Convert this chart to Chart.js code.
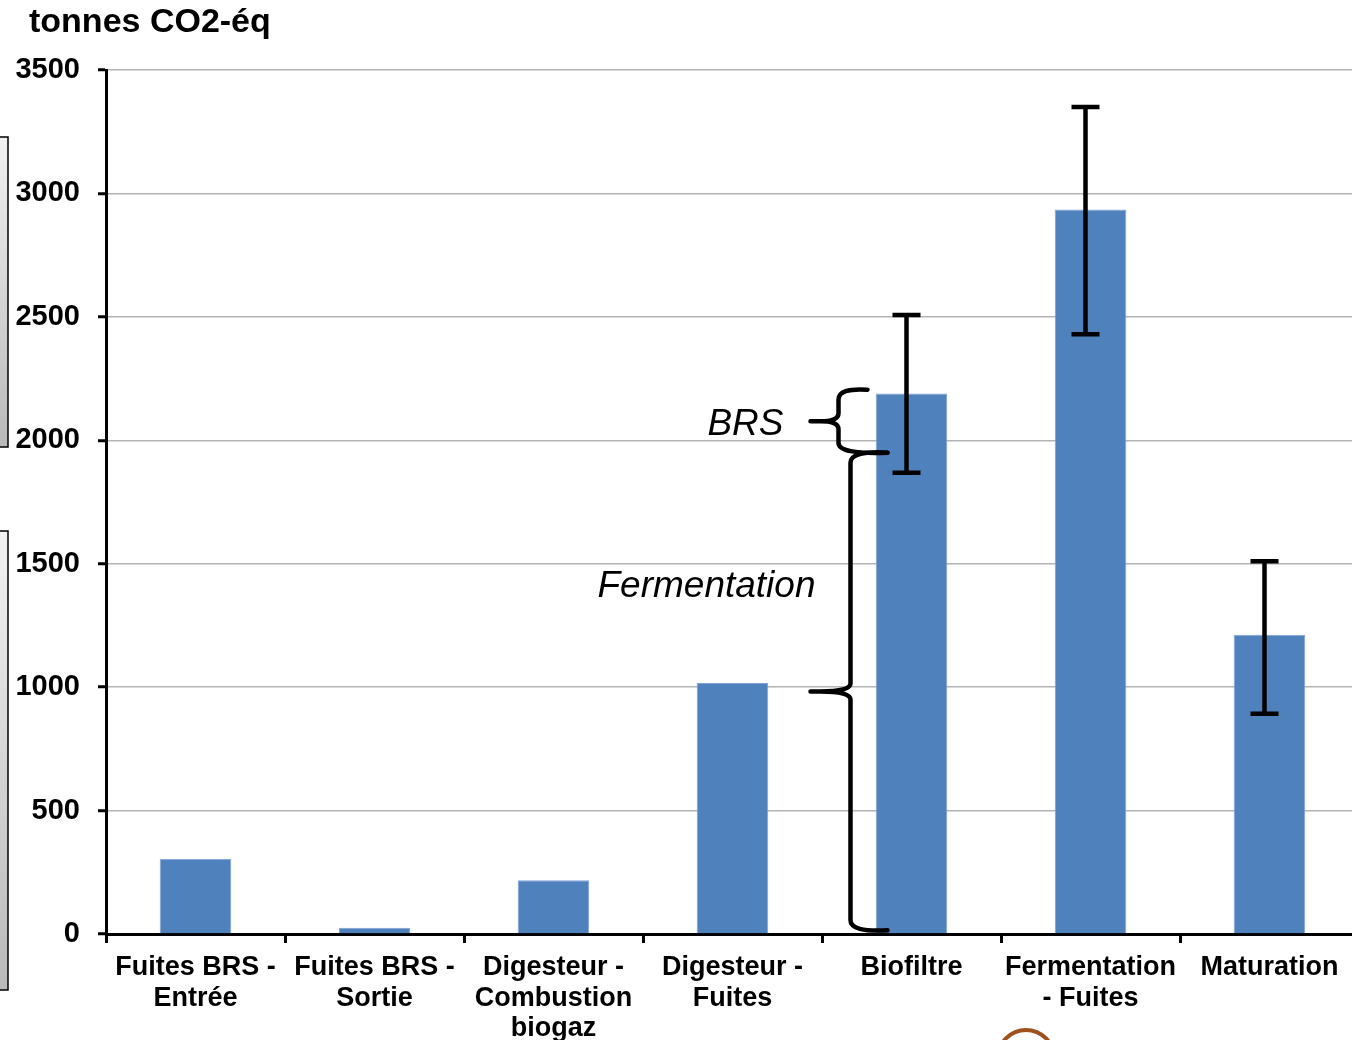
<!DOCTYPE html>
<html>
<head>
<meta charset="utf-8">
<script src="https://cdn.jsdelivr.net/npm/chart.js@4.4.1/dist/chart.umd.min.js"></script>
<style>
  html, body { margin: 0; padding: 0; background: #fff; overflow: hidden; }
  canvas { display: block; }
</style>
</head>
<body>
<canvas id="emissionsChart" width="1360" height="1040"></canvas>
<script>
var categories = [
    ['Fuites BRS -', 'Entrée'],
    ['Fuites BRS -', 'Sortie'],
    ['Digesteur -', 'Combustion', 'biogaz'],
    ['Digesteur -', 'Fuites'],
    ['Biofiltre'],
    ['Fermentation', '- Fuites'],
    ['Maturation']
];
var emissions = [305, 25, 218, 1017, 2190, 2935, 1212];
var errLow = [null, null, null, null, 1868, 2430, 892];
var errHigh = [null, null, null, null, 2508, 3350, 1510];
var yTicks = [0, 500, 1000, 1500, 2000, 2500, 3000, 3500];

// accolades sur la barre Biofiltre
var braceLabels = ['BRS', 'Fermentation'];
var braceFrom = [1950, 15];
var braceTo = [2205, 1950];
var braceTextAt = [2062, 1407];

var fontFamily = '"Liberation Sans", Arial, sans-serif';

var errorBars = {
    id: 'errorBars',
    afterDatasetsDraw: function (chart) {
        var ctx = chart.ctx;
        var x = chart.scales.x, y = chart.scales.y;
        ctx.save();
        ctx.strokeStyle = '#000';
        ctx.lineWidth = 4.5;
        ctx.lineCap = 'butt';
        errHigh.forEach(function (hi, i) {
            if (hi === null) return;
            var cx = x.getPixelForValue(i) - 5;
            var yh = y.getPixelForValue(hi), yl = y.getPixelForValue(errLow[i]);
            ctx.beginPath();
            ctx.moveTo(cx, yh); ctx.lineTo(cx, yl);
            ctx.moveTo(cx - 14, yh); ctx.lineTo(cx + 14, yh);
            ctx.moveTo(cx - 14, yl); ctx.lineTo(cx + 14, yl);
            ctx.stroke();
        });
        ctx.restore();
    }
};

function drawBrace(ctx, xv, yTop, yBot, tipX, endTop, endBot) {
    var yMid = (yTop + yBot) / 2;
    ctx.beginPath();
    ctx.moveTo(endTop, yTop);
    ctx.quadraticCurveTo(xv, yTop - 2, xv, yTop + 10);
    ctx.lineTo(xv, yMid - 8);
    ctx.quadraticCurveTo(xv, yMid, tipX + 10, yMid);
    ctx.lineTo(tipX, yMid);
    ctx.moveTo(tipX + 10, yMid);
    ctx.quadraticCurveTo(xv, yMid, xv, yMid + 8);
    ctx.lineTo(xv, yBot - 10);
    ctx.quadraticCurveTo(xv, yBot + 2, endBot, yBot);
    ctx.stroke();
}

var annotations = {
    id: 'annotations',
    afterDatasetsDraw: function (chart) {
        var ctx = chart.ctx;
        var x = chart.scales.x, y = chart.scales.y;
        var bx = x.getPixelForValue(4);
        ctx.save();
        ctx.strokeStyle = '#000';
        ctx.lineWidth = 4.5;
        ctx.lineCap = 'round';
        ctx.lineJoin = 'round';
        // BRS
        drawBrace(ctx, bx - 73, y.getPixelForValue(braceTo[0]), y.getPixelForValue(braceFrom[0]),
            bx - 101, bx - 44, bx - 24);
        // Fermentation
        drawBrace(ctx, bx - 61, y.getPixelForValue(braceTo[1]), y.getPixelForValue(braceFrom[1]),
            bx - 101, bx - 24, bx - 24);
        ctx.fillStyle = '#000';
        ctx.font = 'italic 37px ' + fontFamily;
        ctx.textAlign = 'right';
        ctx.textBaseline = 'middle';
        ctx.fillText(braceLabels[0], bx - 128, y.getPixelForValue(braceTextAt[0]));
        ctx.fillText(braceLabels[1], bx - 96, y.getPixelForValue(braceTextAt[1]));
        ctx.restore();
    }
};

var decorations = {
    id: 'decorations',
    beforeDraw: function (chart) {
        var ctx = chart.ctx;
        ctx.save();
        ctx.fillStyle = '#fff';
        ctx.fillRect(0, 0, chart.width, chart.height);
        // restes de la diapositive d'origine
        [[137, 447], [531, 990]].forEach(function (r) {
            var g = ctx.createLinearGradient(0, r[0], 0, r[1]);
            g.addColorStop(0, '#f2f2f2');
            g.addColorStop(1, '#b9b9b9');
            ctx.fillStyle = g;
            ctx.fillRect(-4, r[0], 12, r[1] - r[0]);
            ctx.strokeStyle = '#000';
            ctx.lineWidth = 1.5;
            ctx.strokeRect(-4, r[0], 12, r[1] - r[0]);
        });
        ctx.strokeStyle = '#a0501e';
        ctx.lineWidth = 4;
        ctx.beginPath();
        ctx.arc(1026, 1058, 28, 0, Math.PI * 2);
        ctx.stroke();
        // titre de l'axe
        ctx.fillStyle = '#000';
        ctx.font = 'bold 34px ' + fontFamily;
        ctx.textAlign = 'left';
        ctx.textBaseline = 'middle';
        ctx.fillText('tonnes CO2-éq', 29, 23);
        ctx.restore();
    }
};

var ctxEmissions = document.getElementById('emissionsChart').getContext('2d');
var chartEmissions = new Chart(ctxEmissions, {
    type: 'bar',
    data: {
        labels: categories,
        datasets: [{
            label: 'tonnes CO2-éq',
            data: emissions,
            backgroundColor: '#4f81bd',
            borderColor: '#7fa3d3',
            borderWidth: 1,
            categoryPercentage: 1,
            barPercentage: 0.4
        }]
    },
    options: {
        responsive: false,
        animation: false,
        layout: { padding: { top: 70, right: 1, left: 0, bottom: 0 } },
        plugins: {
            legend: { display: false },
            tooltip: { enabled: false }
        },
        scales: {
            x: {
                grid: {
                    offset: true,
                    drawOnChartArea: false,
                    tickColor: '#000',
                    tickWidth: 3,
                    tickLength: 9
                },
                border: { color: '#000', width: 3 },
                ticks: {
                    color: '#000',
                    font: { family: fontFamily, size: 27, weight: 'bold', lineHeight: 1.14 },
                    padding: 9,
                    maxRotation: 0,
                    autoSkip: false
                },
                afterFit: function (scale) { scale.height = 106; }
            },
            y: {
                min: 0,
                max: 3500,
                afterBuildTicks: function (scale) {
                    scale.ticks = yTicks.map(function (v) { return { value: v }; });
                },
                grid: {
                    color: '#b4b4b4',
                    lineWidth: 1.5,
                    tickColor: '#000',
                    tickWidth: 3,
                    tickLength: 8
                },
                border: { color: '#000', width: 3 },
                ticks: {
                    color: '#000',
                    font: { family: fontFamily, size: 29, weight: 'bold' },
                    padding: 18,
                    callback: function (v) { return String(v); }
                },
                afterFit: function (scale) { scale.width = 106; }
            }
        }
    },
    plugins: [decorations, errorBars, annotations]
});
</script>
</body>
</html>
